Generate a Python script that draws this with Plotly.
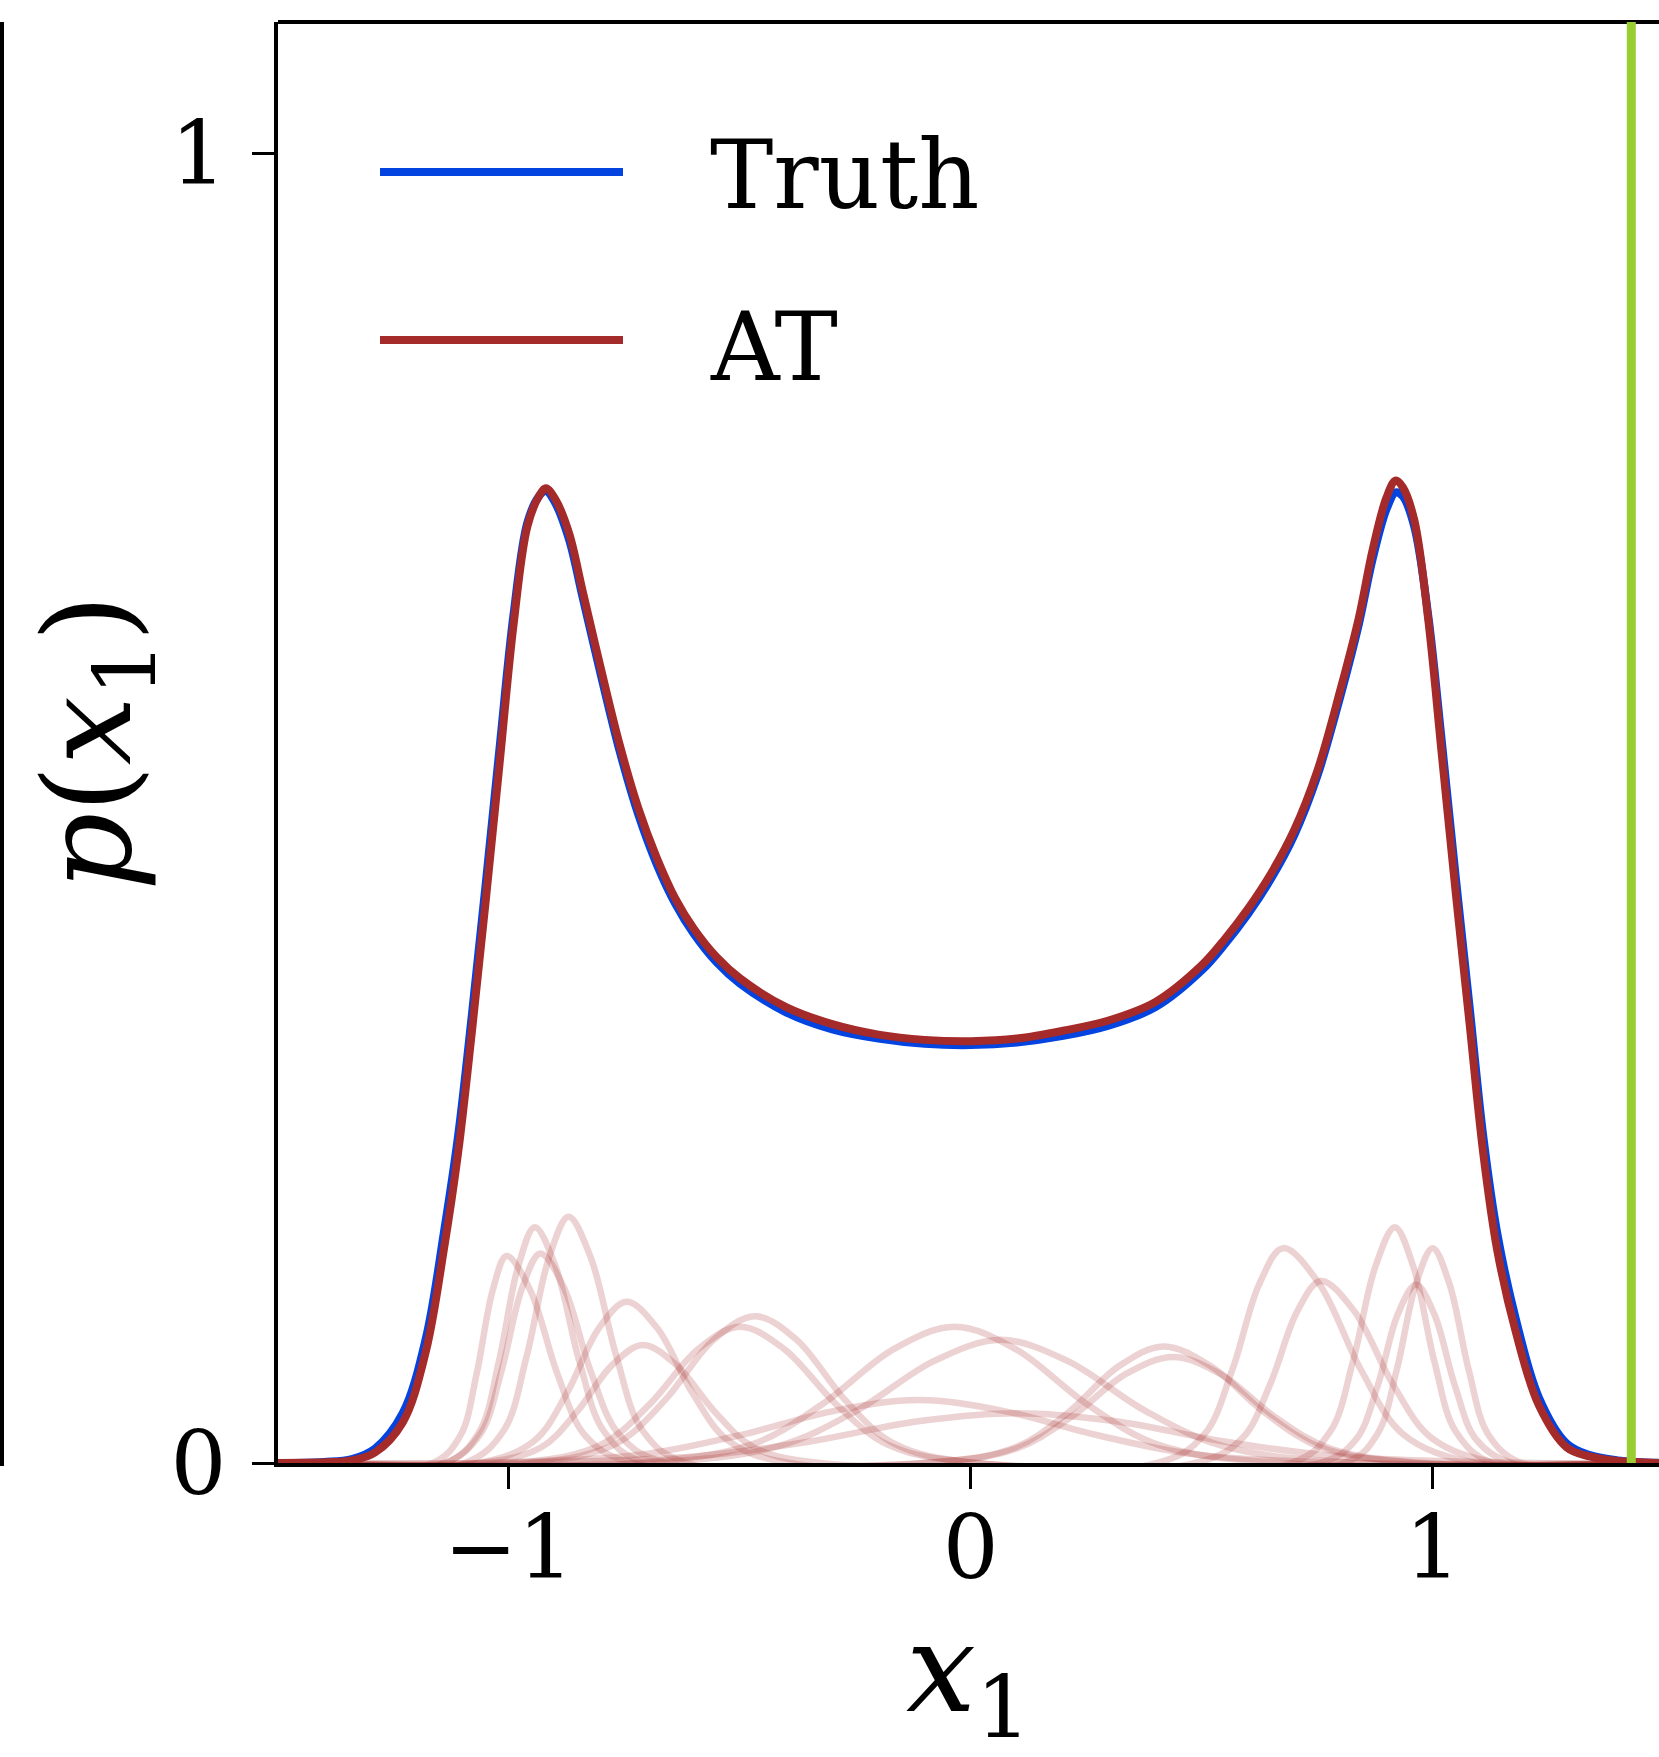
import plotly.graph_objects as go

# ---------------- data ----------------
x_grid = [-1.5, -1.4, -1.34, -1.29, -1.23, -1.18, -1.14, -1.11, -1.08, -1.05,
          -1.02, -0.99, -0.96, -0.935, -0.92, -0.9, -0.87, -0.84, -0.8, -0.76,
          -0.72, -0.68, -0.64, -0.6, -0.55, -0.5, -0.4, -0.3, -0.2, -0.1,
          0.0, 0.1, 0.2, 0.3, 0.4, 0.5, 0.55, 0.6, 0.65, 0.7,
          0.75, 0.8, 0.84, 0.87, 0.9, 0.92, 0.935, 0.96, 0.99, 1.02,
          1.05, 1.08, 1.11, 1.14, 1.18, 1.23, 1.29, 1.34, 1.4, 1.5]

truth_p = [0.0, 0.0008, 0.003, 0.011, 0.038, 0.095, 0.178, 0.25, 0.343, 0.443,
           0.547, 0.648, 0.718, 0.738, 0.742, 0.733, 0.705, 0.66, 0.6, 0.543,
           0.495, 0.457, 0.427, 0.404, 0.382, 0.366, 0.344, 0.331, 0.324, 0.32,
           0.319, 0.321, 0.326, 0.334, 0.348, 0.376, 0.396, 0.419, 0.446, 0.479,
           0.524, 0.585, 0.64, 0.69, 0.728, 0.741, 0.738, 0.715, 0.648, 0.55,
           0.447, 0.348, 0.248, 0.175, 0.11, 0.05, 0.015, 0.006, 0.002, 0.0]

at_p = [0.0, 0.0005, 0.002, 0.008, 0.031, 0.085, 0.165, 0.237, 0.33, 0.43,
        0.535, 0.64, 0.715, 0.738, 0.744, 0.736, 0.71, 0.665, 0.605, 0.548,
        0.5, 0.462, 0.431, 0.408, 0.386, 0.37, 0.348, 0.335, 0.327, 0.323,
        0.322, 0.324, 0.33, 0.338, 0.352, 0.38, 0.4, 0.423, 0.45, 0.483,
        0.528, 0.59, 0.645, 0.697, 0.737, 0.75, 0.745, 0.72, 0.645, 0.54,
        0.435, 0.335, 0.235, 0.162, 0.1, 0.044, 0.012, 0.005, 0.0015, 0.0]

# faint AT components: (x samples, p samples)
comp_A_x = [-1.165, -1.105, -1.07, -1.035, -1.005, -0.954, -0.895, -0.835, -0.733]
comp_A_p = [0, 0.021, 0.068, 0.132, 0.158, 0.132, 0.068, 0.021, 0]
comp_B_x = [-1.136, -1.064, -1.022, -0.98, -0.944, -0.899, -0.847, -0.794, -0.704]
comp_B_p = [0, 0.024, 0.077, 0.15, 0.18, 0.15, 0.077, 0.024, 0]
comp_C_x = [-1.14, -1.062, -1.017, -0.971, -0.932, -0.881, -0.822, -0.762, -0.66]
comp_C_p = [0, 0.022, 0.069, 0.134, 0.16, 0.134, 0.069, 0.022, 0]
comp_D_x = [-1.095, -1.011, -0.962, -0.913, -0.871, -0.823, -0.767, -0.711, -0.615]
comp_D_p = [0, 0.025, 0.081, 0.157, 0.188, 0.157, 0.081, 0.025, 0]
comp_E_x = [-1.065, -0.945, -0.875, -0.805, -0.745, -0.679, -0.602, -0.525, -0.393]
comp_E_p = [0, 0.017, 0.053, 0.103, 0.123, 0.103, 0.053, 0.017, 0]
comp_F_x = [-1.062, -0.93, -0.853, -0.776, -0.71, -0.638, -0.554, -0.47, -0.326]
comp_F_p = [0, 0.012, 0.039, 0.075, 0.09, 0.075, 0.039, 0.012, 0]
comp_G_x = [-0.947, -0.767, -0.662, -0.557, -0.467, -0.377, -0.272, -0.167, 0.013]
comp_G_p = [0, 0.015, 0.048, 0.094, 0.112, 0.094, 0.048, 0.015, 0]
comp_H_x = [-0.98, -0.8, -0.695, -0.59, -0.5, -0.404, -0.292, -0.18, 0.012]
comp_H_p = [0, 0.014, 0.045, 0.087, 0.104, 0.087, 0.045, 0.014, 0]
comp_I_x = [-0.739, -0.475, -0.321, -0.167, -0.035, 0.097, 0.251, 0.405, 0.669]
comp_I_p = [0, 0.014, 0.045, 0.087, 0.104, 0.087, 0.045, 0.014, 0]
comp_J_x = [-0.703, -0.415, -0.247, -0.079, 0.065, 0.209, 0.377, 0.545, 0.833]
comp_J_p = [0, 0.013, 0.04, 0.078, 0.094, 0.078, 0.04, 0.013, 0]
comp_K_x = [-1.073, -0.713, -0.503, -0.293, -0.113, 0.067, 0.277, 0.487, 0.847]
comp_K_p = [0, 0.0065, 0.021, 0.04, 0.048, 0.04, 0.021, 0.0065, 0]
comp_L_x = [-1.02, -0.6, -0.355, -0.11, 0.1, 0.31, 0.555, 0.8, 1.22]
comp_L_p = [0, 0.005, 0.016, 0.032, 0.038, 0.032, 0.016, 0.005, 0]
comp_M_x = [-0.095, 0.097, 0.209, 0.321, 0.417, 0.519, 0.638, 0.757, 0.961]
comp_M_p = [0, 0.012, 0.038, 0.074, 0.089, 0.074, 0.038, 0.012, 0]
comp_N_x = [-0.106, 0.098, 0.217, 0.336, 0.438, 0.54, 0.659, 0.778, 0.982]
comp_N_p = [0, 0.011, 0.035, 0.068, 0.081, 0.068, 0.035, 0.011, 0]
comp_O_x = [0.404, 0.506, 0.566, 0.625, 0.676, 0.754, 0.845, 0.936, 1.092]
comp_O_p = [0, 0.022, 0.071, 0.137, 0.164, 0.137, 0.071, 0.022, 0]
comp_P_x = [0.486, 0.588, 0.648, 0.707, 0.758, 0.83, 0.914, 0.998, 1.142]
comp_P_p = [0, 0.019, 0.06, 0.116, 0.139, 0.116, 0.06, 0.019, 0]
comp_Q_x = [0.694, 0.778, 0.827, 0.876, 0.918, 0.958, 1.004, 1.05, 1.129]
comp_Q_p = [0, 0.024, 0.077, 0.15, 0.18, 0.15, 0.077, 0.024, 0]
comp_R_x = [0.808, 0.88, 0.922, 0.964, 1.0, 1.036, 1.078, 1.12, 1.192]
comp_R_p = [0, 0.022, 0.071, 0.137, 0.164, 0.137, 0.071, 0.022, 0]
comp_S_x = [0.756, 0.834, 0.88, 0.925, 0.964, 1.003, 1.049, 1.094, 1.172]
comp_S_p = [0, 0.018, 0.058, 0.114, 0.136, 0.114, 0.058, 0.018, 0]

components = [
    (comp_A_x, comp_A_p), (comp_B_x, comp_B_p), (comp_C_x, comp_C_p),
    (comp_D_x, comp_D_p), (comp_E_x, comp_E_p), (comp_F_x, comp_F_p),
    (comp_G_x, comp_G_p), (comp_H_x, comp_H_p), (comp_I_x, comp_I_p),
    (comp_J_x, comp_J_p), (comp_K_x, comp_K_p), (comp_L_x, comp_L_p),
    (comp_M_x, comp_M_p), (comp_N_x, comp_N_p), (comp_O_x, comp_O_p),
    (comp_P_x, comp_P_p), (comp_Q_x, comp_Q_p), (comp_R_x, comp_R_p),
    (comp_S_x, comp_S_p),
]

x_min, x_max = -1.5, 1.5
green_line_x = 1.43
x_tickvals = [-1, 0, 1]
x_ticktext = ["\u22121", "0", "1"]
y_tickvals = [0, 1]
y_ticktext = ["0", "1"]
legend_names = ["Truth", "AT"]

# ---------------- styles ----------------
BLUE = "#0343df"
BROWN = "#a52a2a"
FAINT = "rgba(165,42,42,0.21)"
GREEN = "#9acd32"
FONT = "DejaVu Serif"

fig = go.Figure()

for cx, cp in components:
    xs = [x_min] + list(cx) + [x_max]
    ps = [0] + list(cp) + [0]
    fig.add_trace(go.Scatter(x=xs, y=ps, mode="lines",
                             line=dict(color=FAINT, width=6.5, shape="spline"),
                             showlegend=False, hoverinfo="skip"))

fig.add_trace(go.Scatter(x=x_grid, y=truth_p, mode="lines", name=legend_names[0],
                         line=dict(color=BLUE, width=8, shape="spline")))
fig.add_trace(go.Scatter(x=x_grid, y=at_p, mode="lines", name=legend_names[1],
                         line=dict(color=BROWN, width=8, shape="spline")))

W, H = 1659, 1757
ML, MR, MT, MB = 278, 0, 22, 294
PW, PH = W - ML - MR, H - MT - MB

def px_to_paper_x(px):
    return (px - ML) / PW

def px_to_paper_y(py):
    return (H - MB - py) / PH

shapes = []
# top spine
shapes.append(dict(type="line", xref="paper", yref="paper", x0=0, x1=1.01, y0=1, y1=1,
                   line=dict(color="black", width=4)))
# green vertical marker
shapes.append(dict(type="line", xref="x", yref="paper", x0=green_line_x, x1=green_line_x,
                   y0=0, y1=1, line=dict(color=GREEN, width=9)))
# neighbouring panel's spine at the far left
shapes.append(dict(type="line", xref="paper", yref="paper",
                   x0=px_to_paper_x(2), x1=px_to_paper_x(2),
                   y0=px_to_paper_y(1466), y1=1, line=dict(color="black", width=4)))

# manual legend
leg_rows = [(172, 175, BLUE), (340, 347, BROWN)]
annotations = []
for name, (ly, ty, col) in zip(legend_names, leg_rows):
    shapes.append(dict(type="line", xref="paper", yref="paper",
                       x0=px_to_paper_x(380), x1=px_to_paper_x(623),
                       y0=px_to_paper_y(ly), y1=px_to_paper_y(ly),
                       line=dict(color=col, width=8)))
    annotations.append(dict(text=name, xref="paper", yref="paper",
                            x=px_to_paper_x(708), y=px_to_paper_y(ty),
                            xanchor="left", yanchor="middle", showarrow=False,
                            font=dict(family=FONT, size=95, color="black")))

fig.update_layout(
    width=W, height=H,
    margin=dict(l=ML, r=MR, t=MT, b=MB),
    plot_bgcolor="white", paper_bgcolor="white",
    showlegend=False,
    shapes=shapes, annotations=annotations,
    xaxis=dict(range=[-1.5, 1.49], showgrid=False, zeroline=False, automargin=False,
               showline=True, linecolor="black", linewidth=4,
               ticks="outside", ticklen=22, tickwidth=3, tickcolor="black",
               tickvals=x_tickvals, ticktext=x_ticktext,
               tickfont=dict(family=FONT, size=88, color="black"),
               ticklabelstandoff=-17,
               title=dict(text="<i>x</i><sub>1</sub>", standoff=92,
                          font=dict(family=FONT, size=124, color="black"))),
    yaxis=dict(range=[0, 1.1], showgrid=False, zeroline=False, automargin=False,
               showline=True, linecolor="black", linewidth=4,
               ticks="outside", ticklen=22, tickwidth=3, tickcolor="black",
               tickvals=y_tickvals, ticktext=y_ticktext,
               tickfont=dict(family=FONT, size=88, color="black"),
               ticklabelstandoff=8,
               title=dict(text="<i>p</i>(<i>x</i><sub>1</sub>)", standoff=0,
                          font=dict(family=FONT, size=122, color="black"))),
)

fig.write_html("out.html")
